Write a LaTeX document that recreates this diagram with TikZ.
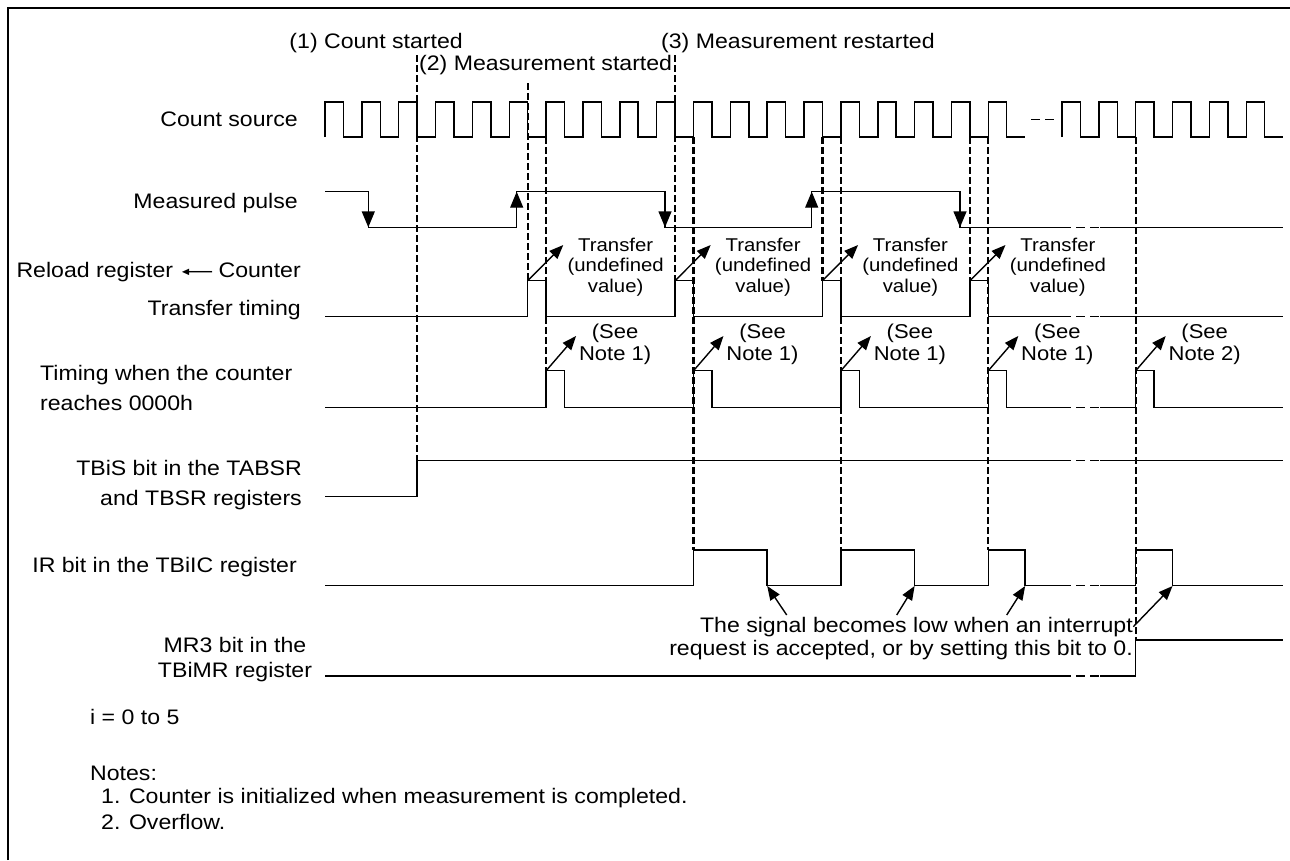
\documentclass[tikz,border=0pt]{standalone}
\usepackage{fontspec}
\setmainfont{Liberation Sans}[FakeStretch=1.1]
\usetikzlibrary{arrows.meta}
\tikzset{
  wave/.style={line width=1.5pt},
  guide/.style={line width=2.2pt, dash pattern=on 7pt off 3pt},
  gap/.style={line width=1.5pt, dash pattern=on 9pt off 5pt},
  pointer/.style={line width=1.4pt, -{Triangle[length=14pt, width=11pt]}},
  edgetip/.style={line width=1.4pt, -{Triangle[length=16pt, width=13pt]}},
  lbl/.style={inner sep=0pt, font=\fontsize{21}{30}\selectfont},
  ann/.style={inner sep=0pt, align=center, font=\fontsize{18.5}{20.5}\selectfont},
  see/.style={inner sep=0pt, align=center, font=\fontsize{20}{22}\selectfont},
}
\newcommand{\lfarrow}{\raisebox{2pt}{\fontsize{11}{11}\selectfont◄}\kern-2.5pt—}

\begin{document}
\begin{tikzpicture}[x=1pt, y=-1pt,
    declare function={rk(\i)=325+36.85*\i; fk(\i)=343.425+36.85*\i;}]
  \useasboundingbox (0,0) rectangle (1290,860);
  \draw[line width=2.5pt] (8,860) -- (8,8) -- (1290,8);

  % signal names
  \node[lbl, anchor=east] (src) at (298,119) {Count source};
  \node[lbl, anchor=east] (meas) at (298,203) {Measured pulse};
  \node[lbl, anchor=east, align=right] (xfer) at (301,291) {Reload register \lfarrow\ Counter\\[8pt]Transfer timing};
  \node[lbl, anchor=west, align=left] (zero) at (40,388) {Timing when the counter\\reaches 0000h};
  \node[lbl, anchor=east, align=right] (tbis) at (302,485) {TBiS bit in the TABSR\\and TBSR registers};
  \node[lbl, anchor=east] (ir) at (297,567) {IR bit in the TBiIC register};
  \node[lbl, align=center, font=\fontsize{21}{25}\selectfont] (mr3) at (235,660) {MR3 bit in the\\TBiMR register};

  % events
  \node[lbl, anchor=east] (ev1) at (463,43) {(1) Count started};
  \node[lbl, anchor=west] (ev2) at (419,65) {(2) Measurement started};
  \node[lbl, anchor=west] (ev3) at (661,43) {(3) Measurement restarted};

  % guide lines
  \foreach \x/\a/\b in {fk(2)/55/460.7, fk(5)/83/280.7, rk(6)/137/370.7, fk(9)/55/280.7,
      rk(10)/137/550, fk(13)/137/280.7, rk(14)/137/550, fk(17)/137/280.7,
      rk(18)/137/550, rk(22)/137/640}
    \draw[guide] ({\x},\a) -- ({\x},\b);

  % count source
  \draw[wave] (325,137) \foreach \k in {0,...,18} {
      -- ({rk(\k)},102) -- ({fk(\k)},102) -- ({fk(\k)},137) -- ({rk(\k+1)},137) };
  \draw[gap] (1031,119.5) -- (1054,119.5);
  \draw[wave] ({rk(20)},137) \foreach \k in {20,...,25} {
      -- ({rk(\k)},102) -- ({fk(\k)},102) -- ({fk(\k)},137) -- ({rk(\k+1)},137) };

  % measured pulse
  \draw[wave] (325,191.7) -| (368.3,227.3) -| (516.7,191.7) -| (665,227.3)
      -| (811.7,191.7) -| (960,227.3) -- (1062,227.3);
  \draw[gap] (1062,227.3) -- (1100,227.3);
  \draw[wave] (1100,227.3) -- (1283,227.3);
  \foreach \x/\a/\b in {368.3/191.7/227.3, 516.7/227.3/191.7, 665/191.7/227.3,
      811.7/227.3/191.7, 960/191.7/227.3}
    \draw[edgetip] (\x,\a) -- (\x,\b);

  % transfer timing
  \draw[wave] (325,316.7) \foreach \k in {5,9,13,17} {
      -- ({fk(\k)},316.7) -- ({fk(\k)},280.7) -- ({rk(\k+1)},280.7) -- ({rk(\k+1)},316.7) }
      -- (1062,316.7);
  \draw[gap] (1062,316.7) -- (1100,316.7);
  \draw[wave] (1100,316.7) -- (1283,316.7);
  \foreach \k in {5,9,13,17} {
    \draw[pointer] ({fk(\k)},280.7) -- ++(35.6,-35.7);
    \node[ann] (tr\k) at ({fk(\k)+88},267) {Transfer\\(undefined\\value)};
  }

  % counter reaches 0000h
  \draw[wave] (325,407.3) \foreach \k in {6,10,14,18} {
      -- ({rk(\k)},407.3) -- ({rk(\k)},370.7) -- ({fk(\k)},370.7) -- ({fk(\k)},407.3) }
      -- (1062,407.3);
  \draw[gap] (1062,407.3) -- (1100,407.3);
  \draw[wave] (1100,407.3) -- ({rk(22)},407.3) |- ({fk(22)},370.7) |- (1283,407.3);
  \foreach \k/\n in {6/1, 10/1, 14/1, 18/1, 22/2} {
    \draw[pointer] ({rk(\k)},370.7) -- ++(30,-34.7);
    \node[see] (nt\k) at ({rk(\k)+69},344) {(See\\Note \n)};
  }

  % TBiS bit
  \draw[wave] (325,496.7) -| ({fk(2)},460.7) -- (1062,460.7);
  \draw[gap] (1062,460.7) -- (1100,460.7);
  \draw[wave] (1100,460.7) -- (1283,460.7);

  % IR bit
  \draw[wave] (325,585.7) \foreach \a/\b in {10/12, 14/16, 18/19} {
      -- ({rk(\a)},585.7) -- ({rk(\a)},550) -- ({rk(\b)},550) -- ({rk(\b)},585.7) }
      -- (1062,585.7);
  \draw[gap] (1062,585.7) -- (1100,585.7);
  \draw[wave] (1100,585.7) -- ({rk(22)},585.7) |- ({rk(23)},550) |- (1283,585.7);
  \node[lbl, anchor=east, align=right, font=\fontsize{21}{23}\selectfont] (lowtxt) at (1133,638.5)
      {The signal becomes low when an interrupt\\request is accepted, or by setting this bit to 0.};
  \foreach \t/\k in {786.7/12, 896.7/16, 1006.7/19} \draw[pointer] (\t,615) -- ({rk(\k)},586);
  \draw[pointer] (1133.3,626.7) -- ({rk(23)},586);

  % MR3 bit
  \draw[wave] (325,676) -- (1062,676);
  \draw[gap] (1062,676) -- (1100,676);
  \draw[wave] (1100,676) -| ({rk(22)},640) -- (1283,640);

  % notes
  \node[lbl, anchor=west] (idx) at (90,717) {i = 0 to 5};
  \node[lbl, anchor=west] (notes) at (90,773) {Notes:};
  \node[lbl, anchor=west] (note1) at (101,798) {1. Counter is initialized when measurement is completed.};
  \node[lbl, anchor=west] (note2) at (101,822) {2. Overflow.};
\end{tikzpicture}
\end{document}
